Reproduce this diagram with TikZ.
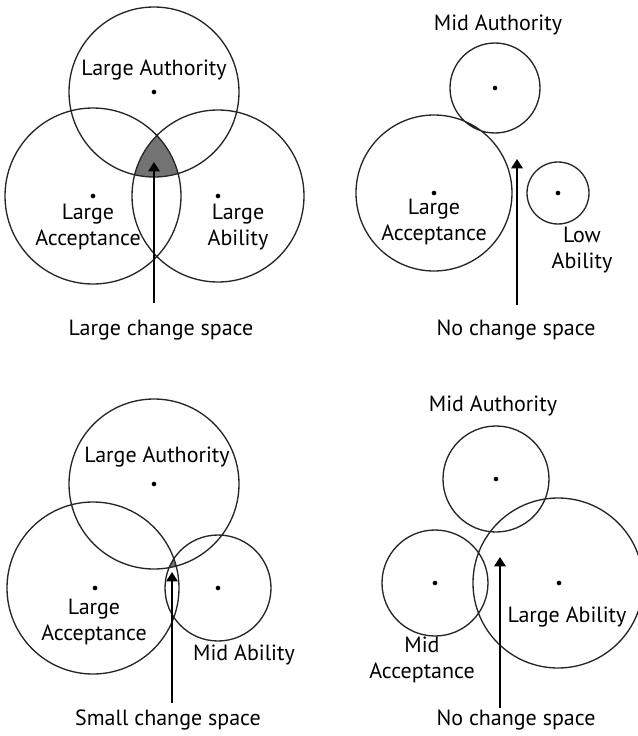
\documentclass[tikz,border=0pt]{standalone}
\usepackage{fontspec}
\setmainfont{PT Sans}
\usepackage{tikz}
\usetikzlibrary{arrows.meta}

\begin{document}
\begin{tikzpicture}[x=0.75pt,y=-0.75pt,
  ring/.style={line width=1pt,draw=black!85},
  ctr/.style={circle,fill=black,inner sep=0pt,minimum size=3.5pt},
  lbl/.style={align=center,font=\fontsize{16.5}{19}\selectfont},
  push/.style={line width=1.5pt,-{Triangle[length=7pt,width=8.5pt]}}]
\useasboundingbox (0,0) rectangle (638,736);

% large change space
\begin{scope}
\clip (154,92) circle (85);
\clip (93,196) circle (88);
\fill[black!55] (218,196) circle (86);
\end{scope}
\draw[ring] (154,92) circle (85) (93,196) circle (88) (218,196) circle (86);
\node[ctr] (au1) at (154,92) {};
\node[ctr] (ac1) at (93,196) {};
\node[ctr] (ab1) at (218,196) {};
\node[lbl] (tau1) at (154,70) {Large Authority};
\node[lbl] (tac1) at (88,227) {Large\\Acceptance};
\node[lbl] (tab1) at (238,227) {Large\\Ability};
\coordinate (foot1) at (154,303);
\coordinate (tip1) at (154,162);
\draw[push] (foot1) -- (tip1);
\node[lbl] (cs1) at (161,330) {Large change space};

% no change space
\draw[ring] (495,88) circle (45) (434,193) circle (78) (558,193) circle (31);
\node[ctr] (au2) at (495,88) {};
\node[ctr] (ac2) at (434,193) {};
\node[ctr] (ab2) at (558,193) {};
\node[lbl] (tau2) at (498,25) {Mid Authority};
\node[lbl] (tac2) at (434,222) {Large\\Acceptance};
\node[lbl] (tab2) at (582,250) {Low\\Ability};
\coordinate (foot2) at (517,305);
\coordinate (tip2) at (517,159);
\draw[push] (foot2) -- (tip2);
\node[lbl] (cs2) at (516,330) {No change space};

% small change space
\begin{scope}
\clip (154,484) circle (85);
\clip (93,588) circle (86);
\fill[black!55] (218,588) circle (53);
\end{scope}
\draw[ring] (154,484) circle (85) (93,588) circle (86) (218,588) circle (53);
\node[ctr] (au3) at (154,484) {};
\node[ctr] (ac3) at (95,588) {};
\node[ctr] (ab3) at (218,588) {};
\node[lbl] (tau3) at (157,457) {Large Authority};
\node[lbl] (tac3) at (94,622) {Large\\Acceptance};
\node[lbl] (tab3) at (244,655) {Mid Ability};
\coordinate (foot3) at (172,703);
\coordinate (tip3) at (172,572);
\draw[push] (foot3) -- (tip3);
\node[lbl] (cs3) at (168,720) {Small change space};

% no change space
\draw[ring] (496,479) circle (53) (435,583) circle (53) (558,583) circle (85);
\node[ctr] (au4) at (496,479) {};
\node[ctr] (ac4) at (435,583) {};
\node[ctr] (ab4) at (559,583) {};
\node[lbl] (tau4) at (493,406) {Mid Authority};
\node[lbl] (tac4) at (422,660) {Mid\\Acceptance};
\node[lbl] (tab4) at (567,617) {Large Ability};
\coordinate (foot4) at (500,708);
\coordinate (tip4) at (500,557);
\draw[push] (foot4) -- (tip4);
\node[lbl] (cs4) at (516,720) {No change space};
\end{tikzpicture}
\end{document}
